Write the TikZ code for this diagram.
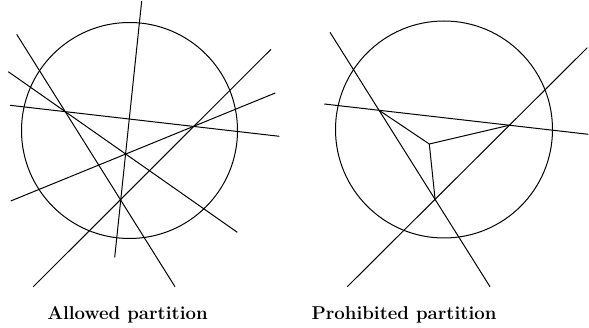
\documentclass[tikz,border=0pt]{standalone}
\usetikzlibrary{calc}
\begin{document}
\begin{tikzpicture}[x=1pt,y=-1pt,
  cut/.style={line width=1pt},
  lbl/.style={font=\fontsize{18.6}{20}\selectfont\bfseries}]
\useasboundingbox (0,0) rectangle (589,328);
% left panel
\coordinate (lc) at (129.5,130.5);
\draw[cut] (lc) circle[radius=108];
\coordinate (l1a) at (141.7,1);   \coordinate (l1b) at (114.7,257.3);
\coordinate (l2a) at (16.7,34.3); \coordinate (l2b) at (175,286.7);
\coordinate (l3a) at (8.3,71.7);  \coordinate (l3b) at (237.3,232.3);
\coordinate (l4a) at (10,105.3);  \coordinate (l4b) at (279.3,136.3);
\coordinate (l5a) at (10.7,201);  \coordinate (l5b) at (275.3,93);
\coordinate (l6a) at (33.3,286.7);\coordinate (l6b) at (271,49.3);
\foreach \i in {1,...,6} \draw[cut] (l\i a) -- (l\i b);
% right panel
\coordinate (rc) at (444,129.5);
\draw[cut] (rc) circle[radius=108.5];
\coordinate (ra1) at (330,32.3);   \coordinate (ra2) at (490,286.7);
\coordinate (rb1) at (324.3,104);  \coordinate (rb2) at (588.3,134.3);
\coordinate (rc1) at (347.3,286.7);\coordinate (rc2) at (587.3,47.7);
\draw[cut] (ra1) -- (ra2);
\draw[cut] (rb1) -- (rb2);
\draw[cut] (rc1) -- (rc2);
\coordinate (ab) at (intersection of ra1--ra2 and rb1--rb2);
\coordinate (bc) at (intersection of rb1--rb2 and rc1--rc2);
\coordinate (ac) at (intersection of ra1--ra2 and rc1--rc2);
\coordinate (ctr) at (429.3,144);
\draw[cut] (ab) -- (ctr) -- (bc);
\draw[cut] (ctr) -- (ac);
% labels
\node[lbl] (lt) at (127.5,315) {Allowed partition};
\node[lbl] (rt) at (404,315) {Prohibited partition};
\end{tikzpicture}
\end{document}
